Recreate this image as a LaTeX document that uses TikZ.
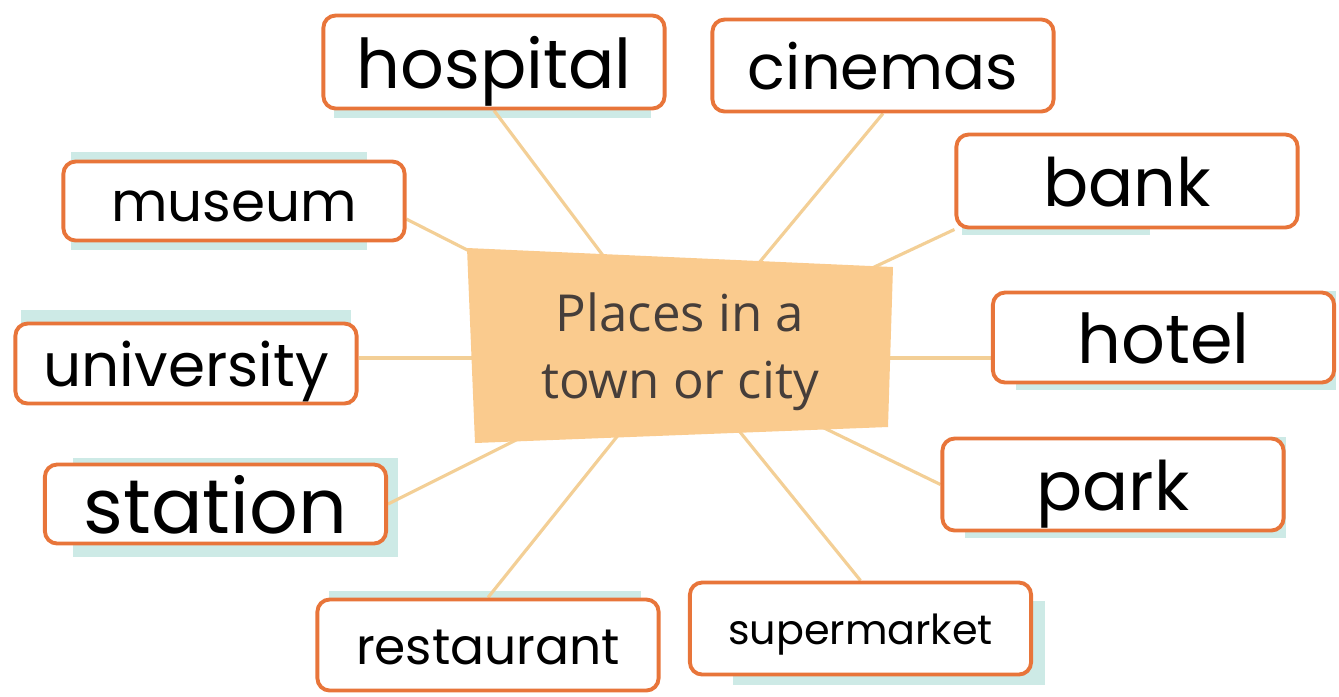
\documentclass[tikz,border=0pt]{standalone}
\usepackage{fontspec}
\setmainfont{Poppins}
\newfontfamily\topicfont{Open Sans}
\usetikzlibrary{backgrounds}
\definecolor{boxorange}{RGB}{232,117,58}
\definecolor{linkorange}{RGB}{243,207,150}
\definecolor{topicfill}{RGB}{250,203,142}
\definecolor{topictext}{RGB}{70,62,58}
\definecolor{shadeteal}{RGB}{205,234,230}
\tikzset{
  place/.style={draw=boxorange, line width=1.1pt, rounded corners=3.5pt, fill=white,
    minimum width=3.41cm, inner sep=0pt,
    font=\fontsize{#1pt}{#1pt}\selectfont, text height=#1*0.76pt, text depth=0pt},
  link/.style={draw=linkorange, line width=0.9pt},
}
\begin{document}
\begin{tikzpicture}[x=0.01cm, y=-0.01cm]
\useasboundingbox (0,0) rectangle (1339,696);
% centre
\fill[topicfill] (467,248)--(893,267)--(888,427)--(475,443)--cycle;
\node[topictext, font=\topicfont\fontsize{14.5}{19}\selectfont, align=center] (topic) at (680,352) {Places in a\\town or city};
\coordinate (hub) at (680,358);
% places
\node[place=19.5, minimum height=0.93cm] (hosp) at (494,62) {hospital};
\node[place=17.7, minimum height=0.92cm] (cine) at (883,65.5) {cinemas};
\node[place=19, minimum height=0.93cm] (bank) at (1127,181) {bank};
\node[place=15.6, minimum height=0.79cm] (museum) at (234,201) {museum};
\node[place=17, minimum height=0.80cm] (univ) at (186,363.5) {university};
\node[place=21.7, minimum height=0.79cm] (stat) at (215.5,504) {station};
\node[place=19.5, minimum height=0.90cm] (hotel) at (1163.5,337.5) {hotel};
\node[place=19.4, minimum height=0.92cm] (park) at (1113,484.5) {park};
\node[place=14.3, minimum height=0.91cm] (rest) at (488,645) {restaurant};
\node[place=11.75, minimum height=0.92cm] (super) at (860.5,628.5) {supermarket};
\begin{pgfonlayer}{background}
\foreach \n/\a/\b/\c/\d in {hosp/13/8/-16/10, museum/10/8/-40/-8, univ/8/0/-8/-12,
    stat/30/12/10/-5, hotel/25/6/0/0, park/25/6/0/0, rest/14/0/-20/-7,
    super/45/9/12/20, bank/8/6/-150/10}
  \fill[shadeteal] ([shift={(\a,\b)}]\n.south west) rectangle ([shift={(\c,\d)}]\n.north east);
\draw[link] (hub) -- (hosp.south);
\draw[link] (hub) -- (cine.south);
\draw[link] (hub) -- (bank.south west);
\draw[link] (hub) -- (museum.-6);
\draw[link] (hub) -- (hub -| univ.east);
\draw[link] (hub) -- (stat.east);
\draw[link] (hub) -- (hub -| hotel.west);
\draw[link] (hub) -- (park.west);
\draw[link] (hub) -- (rest.north);
\draw[link] (hub) -- (super.north);
\end{pgfonlayer}
\end{tikzpicture}
\end{document}
